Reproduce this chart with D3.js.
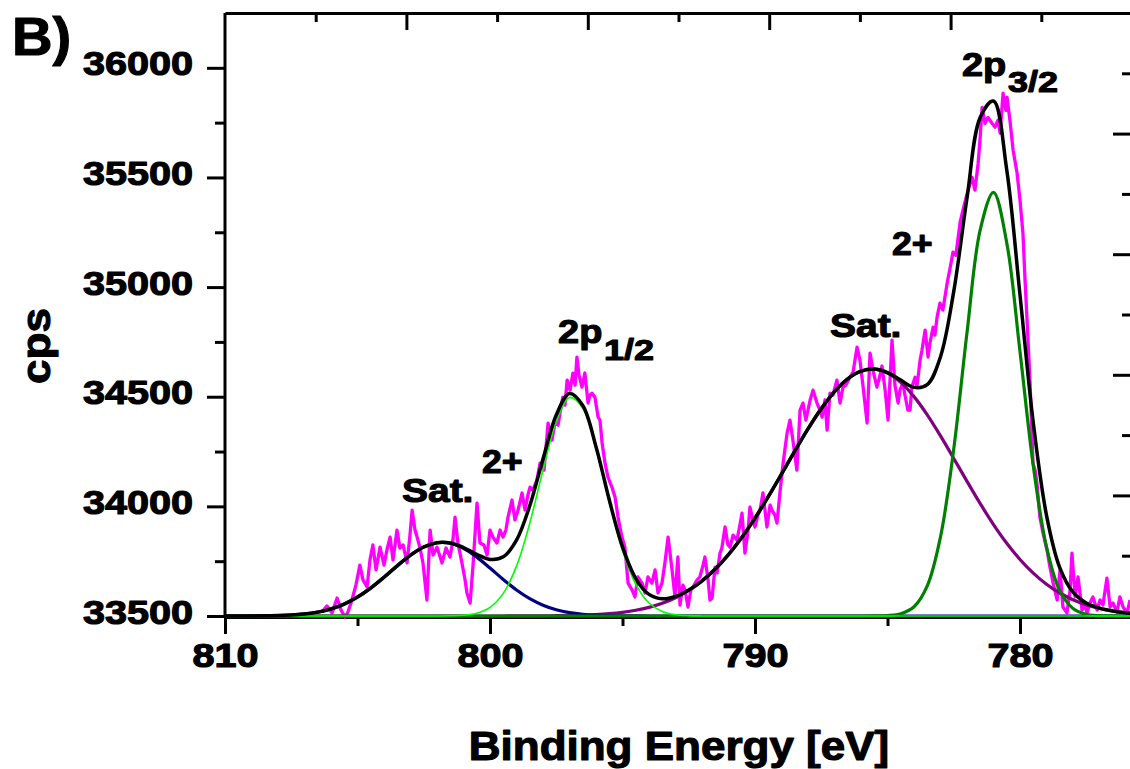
<!DOCTYPE html>
<html>
<head>
<meta charset="utf-8">
<title>Co 2p XPS</title>
<script src="https://cdn.jsdelivr.net/npm/d3@7"></script>
<style>
  html, body { margin: 0; padding: 0; background: #fff; }
  svg { display: block; }
  text { font-family: "Liberation Sans", Arial, Helvetica, sans-serif; font-weight: bold; fill: #000;
         stroke: #000; stroke-width: 1.1px; stroke-linejoin: round; }
</style>
</head>
<body>
<svg id="chart" width="1130" height="769"></svg>
<script>
// ---------------- data ----------------
// Energy grid (eV) shared by the fitted components
const energyGrid = [
  810, 809.5, 809, 808.5, 808, 807.5, 807, 806.5, 806, 805.5,
  805, 804.5, 804, 803.5, 803, 802.5, 802, 801.5, 801, 800.5,
  800, 799.5, 799, 798.5, 798, 797.5, 797, 796.5, 796, 795.5,
  795, 794.5, 794, 793.5, 793, 792.5, 792, 791.5, 791, 790.5,
  790, 789.5, 789, 788.5, 788, 787.5, 787, 786.5, 786, 785.5,
  785, 784.5, 784, 783.5, 783, 782.5, 782, 781.5, 781, 780.5,
  780, 779.5, 779, 778.5, 778, 777.5, 777, 776.5, 776, 775.5
];

// Constant background (cps) under the fitted components
const background = 33500;

// Satellite of 2p1/2 (cps above background)
const sat12 = [
  0, 0.1, 0.3, 0.9, 2.0, 4.5, 9.3, 17.8, 32.2, 54.5,
  86.2, 127.6, 176.6, 228.9, 277.5, 314.8, 334.2, 332.0, 308.6, 268.5,
  218.5, 166.4, 118.6, 79.1, 49.4, 28.8, 15.7, 8.0, 3.9, 1.7,
  0.7, 0.3, 0.1, 0, 0, 0, 0, 0, 0, 0,
  0, 0, 0, 0, 0, 0, 0, 0, 0, 0,
  0, 0, 0, 0, 0, 0, 0, 0, 0, 0,
  0, 0, 0, 0, 0, 0, 0, 0, 0, 0
];

// Co 2p1/2 main line
const p12 = [
  0, 0, 0, 0, 0, 0, 0, 0, 0, 0,
  0, 0, 0, 0, 0, 0, 0.2, 0.8, 3.5, 12.9,
  39.6, 103.2, 227.4, 423.2, 666.0, 886.1, 996.6, 947.7, 761.8, 517.7,
  297.4, 144.4, 59.3, 20.6, 6.0, 1.5, 0.3, 0, 0, 0,
  0, 0, 0, 0, 0, 0, 0, 0, 0, 0,
  0, 0, 0, 0, 0, 0, 0, 0, 0, 0,
  0, 0, 0, 0, 0, 0, 0, 0, 0, 0
];

// Satellite of 2p3/2
const sat32 = [
  0, 0, 0, 0, 0, 0, 0, 0, 0, 0,
  0, 0, 0, 0, 0, 0, 0, 0, 0, 0,
  0.1, 0.1, 0.2, 0.4, 0.8, 1.4, 2.4, 4.0, 6.6, 10.7,
  16.9, 26.0, 39.3, 57.8, 83.1, 116.7, 160.0, 214.3, 280.3, 358.0,
  446.5, 544.1, 647.2, 752.1, 853.4, 945.7, 1023.5, 1081.8, 1116.6, 1125.7,
  1108.2, 1065.5, 1000.5, 917.5, 821.6, 718.6, 613.9, 512.1, 417.2, 331.9,
  257.9, 195.7, 145.0, 104.9, 74.2, 51.2, 34.5, 22.7, 14.6, 9.2
];

// Co 2p3/2 main line
const p32 = [
  0, 0, 0, 0, 0, 0, 0, 0, 0, 0,
  0, 0, 0, 0, 0, 0, 0, 0, 0, 0,
  0, 0, 0, 0, 0, 0, 0, 0, 0, 0,
  0, 0, 0, 0, 0, 0, 0, 0, 0, 0,
  0, 0, 0, 0, 0, 0, 0, 0, 0, 0.3,
  2.1, 10.4, 42.1, 137.5, 361.0, 762.0, 1292.6, 1762.3, 1931.6, 1701.8,
  1205.4, 686.2, 314.1, 115.6, 34.2, 8.1, 1.6, 0.2, 0, 0
];

// Measured spectrum: binding energy (eV) and intensity (cps)
const measEnergy = [
  806.34, 806.15, 805.96, 805.77, 805.62, 805.47, 805.36, 805.21, 805.06, 804.91,
  804.79, 804.64, 804.53, 804.42, 804.30, 804.15, 804.00, 803.89, 803.77, 803.66,
  803.51, 803.40, 803.28, 803.13, 803.02, 802.94, 802.83, 802.75, 802.64, 802.53,
  802.38, 802.26, 802.15, 802.00, 801.89, 801.81, 801.66, 801.51, 801.40, 801.32,
  801.21, 801.06, 800.94, 800.87, 800.75, 800.64, 800.49, 800.38, 800.23, 800.11,
  800.00, 799.89, 799.74, 799.62, 799.51, 799.40, 799.32, 799.17, 799.06, 798.94,
  798.79, 798.68, 798.57, 798.49, 798.38, 798.23, 798.11, 797.96, 797.81, 797.66,
  797.55, 797.43, 797.36, 797.25, 797.17, 797.09, 796.98, 796.87, 796.79, 796.72,
  796.64, 796.53, 796.42, 796.30, 796.23, 796.15, 796.04, 795.92, 795.85, 795.77,
  795.66, 795.55, 795.40, 795.28, 795.17, 795.02, 794.91, 794.79, 794.64, 794.53,
  794.42, 794.26, 794.15, 794.04, 793.89, 793.77, 793.66, 793.51, 793.40, 793.28,
  793.13, 793.02, 792.91, 792.83, 792.72, 792.64, 792.53, 792.42, 792.34, 792.19,
  792.08, 791.96, 791.89, 791.77, 791.70, 791.62, 791.51, 791.43, 791.32, 791.25,
  791.13, 791.02, 790.94, 790.83, 790.68, 790.57, 790.49, 790.38, 790.26, 790.19,
  790.08, 790.00, 789.89, 789.81, 789.70, 789.55, 789.43, 789.36, 789.25, 789.17,
  789.06, 788.94, 788.79, 788.68, 788.57, 788.42, 788.30, 788.19, 788.08, 787.92,
  787.81, 787.66, 787.55, 787.47, 787.36, 787.28, 787.17, 787.06, 786.91, 786.79,
  786.68, 786.57, 786.42, 786.30, 786.15, 786.04, 785.92, 785.77, 785.66, 785.55,
  785.40, 785.28, 785.21, 785.09, 784.98, 784.83, 784.72, 784.60, 784.53, 784.42,
  784.34, 784.23, 784.15, 784.08, 783.96, 783.89, 783.77, 783.70, 783.58, 783.47,
  783.40, 783.28, 783.21, 783.13, 783.02, 782.91, 782.75, 782.64, 782.53, 782.42,
  782.26, 782.11, 781.96, 781.81, 781.70, 781.58, 781.51, 781.43, 781.32, 781.21,
  781.06, 780.94, 780.83, 780.75, 780.68, 780.64, 780.57, 780.53, 780.49, 780.38,
  780.26, 780.11, 780.00, 779.89, 779.81, 779.74, 779.62, 779.51, 779.43, 779.36,
  779.25, 779.13, 778.98, 778.87, 778.75, 778.60, 778.49, 778.38, 778.23, 778.11,
  778.04, 777.92, 777.81, 777.66, 777.55, 777.47, 777.36, 777.25, 777.09, 776.98,
  776.87, 776.72, 776.60, 776.49, 776.34, 776.23, 776.11, 775.96, 775.85
];
const measCps = [
  33518, 33546, 33514, 33582, 33527, 33495, 33518, 33573, 33641, 33732,
  33664, 33632, 33755, 33824, 33710, 33814, 33732, 33801, 33860, 33755,
  33892, 33810, 33824, 33742, 33869, 33983, 33892, 33860, 33810, 33742,
  33573, 33892, 33778, 33814, 33773, 33742, 33810, 33769, 33846, 33951,
  33833, 33742, 33664, 33605, 33559, 33732, 34015, 33833, 33824, 33778,
  33892, 33860, 33833, 33892, 33860, 33892, 33951, 34029, 33938, 33983,
  34061, 33983, 34051, 34088, 34074, 34120, 34197, 34165, 34380, 34302,
  34380, 34371, 34425, 34498, 34462, 34576, 34530, 34608, 34553, 34681,
  34599, 34544, 34608, 34471, 34507, 34516, 34498, 34407, 34393, 34289,
  34197, 34134, 34088, 34042, 33951, 33860, 33814, 33650, 33619, 33587,
  33678, 33650, 33605, 33678, 33650, 33710, 33605, 33650, 33742, 33860,
  33710, 33587, 33769, 33550, 33641, 33619, 33541, 33619, 33632, 33664,
  33678, 33732, 33769, 33664, 33573, 33582, 33723, 33696, 33787, 33810,
  33906, 33824, 33814, 33869, 33846, 33915, 33969, 33787, 33892, 33997,
  33938, 33906, 33960, 33983, 34061, 33906, 34006, 33983, 33960, 33924,
  34061, 34197, 34334, 34393, 34302, 34165, 34439, 34471, 34393, 34485,
  34530, 34471, 34439, 34407, 34485, 34348, 34516, 34507, 34576, 34471,
  34544, 34553, 34589, 34612, 34726, 34667, 34544, 34380, 34699, 34621,
  34544, 34599, 34640, 34530, 34393, 34758, 34553, 34471, 34530, 34562,
  34507, 34439, 34439, 34544, 34589, 34544, 34667, 34712, 34804, 34681,
  34744, 34817, 34781, 34863, 34927, 34895, 35018, 35086, 35159, 35145,
  35296, 35373, 35442, 35501, 35442, 35565, 35670, 35820, 35747, 35774,
  35747, 35729, 35761, 35702, 35820, 35884, 35829, 35806, 35866, 35761,
  35624, 35519, 35396, 35246, 35032, 34863, 34562, 34197, 34165, 34106,
  33951, 33878, 33801, 33723, 33650, 33573, 33710, 33541, 33514, 33619,
  33787, 33587, 33678, 33527, 33550, 33514, 33559, 33587, 33527, 33573,
  33550, 33673, 33541, 33559, 33518, 33587, 33541, 33514, 33573
];

// Axis ticks
const xTicksMajor = [810, 800, 790, 780];
const xTicksMinor = [805, 795, 785];
const yTicksMajor = [33500, 34000, 34500, 35000, 35500, 36000];
const yTicksMinor = [33750, 34250, 34750, 35250, 35750];
const frameTicksMajor = [2, 4, 6, 8];
const frameTicksMinor = [1, 3, 5, 7, 9];

// ---------------- drawing ----------------
const svg = d3.select("#chart");
const L = 225, R = 1132, T = 13, B = 616;

const x = d3.scaleLinear().domain([810, 775.774]).range([L, R]);
const y = d3.scaleLinear().domain([33500, 36250]).range([B, T]);
// Opposite frame axes (top and right) run on a plain 0-10 scale
const frameX = d3.scaleLinear().domain([0, 10]).range([L, R]);
const frameY = d3.scaleLinear().domain([0, 10]).range([B, T]);

svg.append("rect").attr("width", 1130).attr("height", 769).attr("fill", "#fff");

svg.append("defs").append("clipPath").attr("id", "plot-area")
  .append("rect").attr("x", L).attr("y", T).attr("width", R - L).attr("height", B - T + 4);

// Widen text horizontally to the bold, broad lettering of the figure
function stretch(sel, k) {
  sel.each(function () {
    const w = this.getComputedTextLength();
    d3.select(this).attr("textLength", w * k).attr("lengthAdjust", "spacingAndGlyphs");
  });
}

function styleAxis(g, keepDomain) {
  g.attr("font-family", null).attr("font-size", null);
  g.selectAll("line").attr("stroke", "#000").attr("stroke-width", 3);
  if (keepDomain) {
    g.select("path.domain").attr("stroke", "#000").attr("stroke-width", 3);
  } else {
    g.select("path.domain").remove();
  }
}

// Bottom axis
const gxMinor = svg.append("g").attr("transform", `translate(0,${B + 1})`)
  .call(d3.axisBottom(x).tickValues(xTicksMinor).tickSize(9).tickFormat(""));
styleAxis(gxMinor, false);
const gx = svg.append("g").attr("transform", `translate(0,${B + 1})`)
  .call(d3.axisBottom(x).tickValues(xTicksMajor).tickSize(17).tickSizeOuter(0).tickFormat(d3.format("d")));
styleAxis(gx, true);
gx.selectAll("text")
  .attr("y", 50).attr("dy", 0)
  .attr("font-size", 33).attr("text-anchor", "middle")
  .call(stretch, 1.2);

// Left axis
const gyMinor = svg.append("g").attr("transform", `translate(${L},0)`)
  .call(d3.axisLeft(y).tickValues(yTicksMinor).tickSize(10).tickFormat(""));
styleAxis(gyMinor, false);
const gy = svg.append("g").attr("transform", `translate(${L},0)`)
  .call(d3.axisLeft(y).tickValues(yTicksMajor).tickSize(18).tickPadding(14).tickSizeOuter(0).tickFormat(d3.format("d")));
styleAxis(gy, true);
gy.select("path.domain").attr("d", `M0,${B + 1}V${T}`);
gy.selectAll("text")
  .attr("dy", 7)
  .attr("font-size", 33).attr("text-anchor", "end")
  .call(stretch, 1.2);

// Top frame
const gt = svg.append("g").attr("transform", `translate(0,${T})`)
  .call(d3.axisBottom(frameX).tickValues(frameTicksMajor).tickSize(17).tickSizeOuter(0).tickFormat(""));
styleAxis(gt, true);
const gtMinor = svg.append("g").attr("transform", `translate(0,${T})`)
  .call(d3.axisBottom(frameX).tickValues(frameTicksMinor).tickSize(9).tickFormat(""));
styleAxis(gtMinor, false);

// Right frame
const gr = svg.append("g").attr("transform", `translate(${R},0)`)
  .call(d3.axisLeft(frameY).tickValues(frameTicksMajor).tickSize(19).tickSizeOuter(0).tickFormat(""));
styleAxis(gr, true);
const grMinor = svg.append("g").attr("transform", `translate(${R},0)`)
  .call(d3.axisLeft(frameY).tickValues(frameTicksMinor).tickSize(10).tickFormat(""));
styleAxis(grMinor, false);

// Curves
const plot = svg.append("g").attr("clip-path", "url(#plot-area)");

const measured = d3.zip(measEnergy, measCps);
const rawLine = d3.line().x(d => x(d[0])).y(d => y(d[1]));
plot.append("path").datum(measured)
  .attr("d", rawLine)
  .attr("fill", "none").attr("stroke", "#ff00ff").attr("stroke-width", 3.3)
  .attr("stroke-linejoin", "round");

const smooth = d3.line().curve(d3.curveCatmullRom.alpha(0.5))
  .x(d => x(d[0])).y(d => y(d[1]));
const component = vals => energyGrid.map((e, i) => [e, background + vals[i]]);

const components = [
  { vals: sat32, color: "#800080", width: 3.2 },
  { vals: sat12, color: "#000080", width: 3.2 },
  { vals: p32,   color: "#008000", width: 3.2 },
  { vals: p12,   color: "#00ff00", width: 1.6 }
];
components.forEach(c => {
  plot.append("path").datum(component(c.vals))
    .attr("d", smooth)
    .attr("fill", "none").attr("stroke", c.color).attr("stroke-width", c.width);
});

// Fit envelope: background plus all components
const envelope = energyGrid.map((e, i) => [e, background + sat12[i] + p12[i] + sat32[i] + p32[i]]);
plot.append("path").datum(envelope)
  .attr("d", smooth)
  .attr("fill", "none").attr("stroke", "#000").attr("stroke-width", 3.5);

// Peak annotations (anchored in energy / cps)
const notes = [
  { t: "Sat.", e: 803.32, c: 34020, size: 33, k: 1.18 },
  { t: "2+",   e: 800.30, c: 34152, size: 33, k: 1.08 },
  { t: "2p",   e: 797.43, c: 34744, size: 33, k: 1.15 },
  { t: "1/2",  e: 795.70, c: 34667, size: 30, k: 1.2 },
  { t: "Sat.", e: 787.17, c: 34772, size: 33, k: 1.18 },
  { t: "2+",   e: 784.83, c: 35145, size: 33, k: 1.08 },
  { t: "2p",   e: 782.19, c: 35961, size: 33, k: 1.15 },
  { t: "3/2",  e: 780.45, c: 35888, size: 30, k: 1.2 }
];
svg.append("g").selectAll("text").data(notes).join("text")
  .attr("x", d => x(d.e)).attr("y", d => y(d.c))
  .attr("font-size", d => d.size)
  .text(d => d.t)
  .each(function (d) { d3.select(this).call(stretch, d.k); });

// Axis titles and panel letter
svg.append("text")
  .attr("x", 679).attr("y", 760).attr("text-anchor", "middle")
  .attr("font-size", 40).text("Binding Energy [eV]")
  .call(stretch, 1.1);

svg.append("text")
  .attr("transform", "translate(50,346) rotate(-90)")
  .attr("text-anchor", "middle")
  .attr("font-size", 40).text("cps")
  .call(stretch, 1.1);

svg.append("text")
  .attr("x", 12).attr("y", 55)
  .attr("font-size", 54).attr("stroke-width", 1.6).text("B)")
  .call(stretch, 1.04);
</script>
</body>
</html>
